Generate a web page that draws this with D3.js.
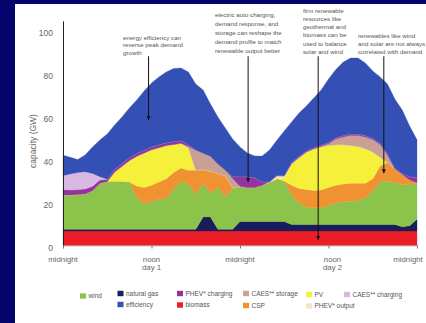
<!DOCTYPE html>
<html>
<head>
<meta charset="utf-8">
<script src="https://cdn.jsdelivr.net/npm/d3@7"></script>
<style>
  html, body { margin: 0; padding: 0; background: #02036b; }
  svg { display: block; }
  text { font-family: "Liberation Sans", Arial, sans-serif; }
</style>
</head>
<body>
<svg id="chart" width="426" height="323"></svg>
<script>
// Two days of supply, hour by hour (GW)
const hours = [0,1,2,3,4,5,6,7,8,9,10,11,12,13,14,15,16,17,18,19,20,21,22,23,24,
  25,26,27,28,29,30,31,32,33,34,35,36,37,38,39,40,41,42,43,44,45,46,47,48];

const biomass = [6.7,6.7,6.7,6.7,6.7,6.7,6.7,6.7,6.7,6.7,6.7,6.7,6.7,6.7,6.7,6.7,6.7,
  6.7,6.7,6.7,6.7,6.7,6.7,6.7,6.7,6.7,6.7,6.7,6.7,6.7,6.7,6.7,6.7,6.7,6.7,6.7,6.7,
  6.7,6.7,6.7,6.7,6.7,6.7,6.7,6.7,6.7,6.7,6.7,6.7];
const naturalGas = [0.8,0.8,0.8,0.8,0.8,0.8,0.8,0.8,0.8,0.8,0.8,0.8,0.8,0.8,0.8,0.8,0.8,
  0.8,0.8,6.6,6.6,0.8,0.8,0.8,4.5,4.5,4.5,4.5,4.5,4.5,4.5,3.1,3.1,3.1,3.1,3.1,3.1,
  3.1,3.1,3.1,3.1,3.1,3.1,3.1,3.1,3.1,2.0,2.5,5.5];
const wind = [16.0,16.0,16.2,16.5,18.0,21.5,22.3,22.3,22.3,22.0,
  15.1,11.7,13.0,14.0,14.5,18.5,22.5,21.0,16.5,15.7,
  11.1,19.7,15.1,19.0,16.3,15.8,15.8,16.8,18.1,19.8,
  18.8,13.7,10.0,8.1,7.7,7.7,8.8,10.0,10.5,10.7,
  11.1,12.3,15.5,19.7,20.2,19.5,19.7,19.3,16.6];
const csp = [0,0,0,0,0,0,0,0,0,0,
  5.1,7.8,7.5,8.0,9.0,8.0,6.0,6.5,11.0,6.3,10.1,6.3,9.9,0.5,
  0,0,0,0,0,0,0,
  4.5,6.7,8.1,8.1,8.3,8.4,8.2,8.3,8.5,8.1,6.9,5.7,7.5,8.6,6.3,4.6,2.0,0.3];
const pv = [0,0,0,0,0,0,0,
  4.4,7.0,10.0,13.8,16.0,16.5,16.0,15.5,13.0,11.5,10.5,
  0,0,0,0,0,0,0,0,0,0,0,0,
  1.4,10.1,14.4,17.5,19.4,20.2,19.5,18.8,18.2,17.5,17.0,16.0,12.5,4.0,
  0,0,0,0,0];
const phevOutput = [0,0,0,0,0,0,0,0,0,0,0,0,0,0,0,0,0,0,0,0,0,0,0,0,0,0,0,0,
  0.3,1.5,1.0,
  0,0,0,0,0,0,0,0,0,0,0,0,0,0,0,0,0,0];
const caesStorage = [0,0,0,0,0,0,0,0,0,0,0,0,0,0,0,0,0,
  0.5,9.4,7.7,7.0,4.5,2.6,4.2,
  0,0,0,0,0,0,0,0,0,0,0,0,
  0.8,2.7,3.7,4.7,5.2,5.5,5.8,6.0,3.4,
  0,0,0,0];
const phevCharging = [2.5,2.3,2.3,2.3,2.0,1.5,1.0,
  1.3,1.3,1.3,1.3,1.3,1.3,1.3,1.3,1.3,1.3,0.8,
  0,0,0,0,0,0.8,4.5,5.0,4.5,1.5,0,0,0,
  0.6,0.6,0.6,0.6,0.6,0.6,0.6,0.6,0.6,0.6,0.6,0.6,0.6,0.6,
  0.4,0.5,1.5,2.5];
const caesCharging = [6.5,7.5,8.0,8.0,6.0,1.5,0,0,0,0,0,0,0,0,0,0,0,0,0,0,0,0,0,0,
  0,0,0,0,0,0,0,0,0,0,0,0,0,0,0,0,0,0,0,0,0,0,0,0,0];
const efficiency = [9.5,7.7,6.0,7.8,12.3,17.1,21.1,20.5,21.7,23.2,24.9,27.6,29.8,31.6,
  32.9,34.0,33.8,33.9,
  30.7,29.3,24.3,21.8,19.6,17.5,13.8,11.0,10.1,12.1,14.8,16.5,20.9,18.7,20.1,20.8,23.0,
  25.7,29.5,31.8,34.2,35.4,35.4,33.8,31.3,30.8,32.5,32.1,29.5,23.6,17.6];

// Axis ticks
const yTicks = [0, 20, 40, 60, 80, 100];
const xTickHours = [0, 12, 24, 36, 48];
const xTickLabels = [["midnight"], ["noon", "day 1"], ["midnight"], ["noon", "day 2"], ["midnight"]];

// Call-outs: text, hour of the arrow, value the arrow points at
const noteText = [
  ["energy efficiency can", "reverse peak demand", "growth"],
  ["electric auto charging,", "demand response, and", "storage can reshape the",
   "demand profile to match", "renewable output better"],
  ["firm renewable", "resources like", "geothermal and", "biomass can be",
   "used to balance", "solar and wind"],
  ["renewables like wind", "and solar are not always", "correlated with demand"]
];
const noteHour = [11.6, 25.1, 34.6, 43.5];
const noteTip = [58.4, 29.5, 2.6, 33.6];
const noteTop = 88;

// Layers, bottom to top
const layerKeys = ["biomass", "naturalGas", "wind", "csp", "pv", "phevOutput",
  "caesStorage", "phevCharging", "caesCharging", "efficiency"];
const layerSeries = { biomass, naturalGas, wind, csp, pv, phevOutput,
  caesStorage, phevCharging, caesCharging, efficiency };
const layerColors = {
  biomass: "#eb1e28", naturalGas: "#191e5a", wind: "#8cc34b", csp: "#f09132",
  pv: "#f5f03a", phevOutput: "#f1e6c2", caesStorage: "#c8a096",
  phevCharging: "#9433a0", caesCharging: "#d7b9e1", efficiency: "#3450b4"
};
const legendKeys = ["wind", "naturalGas", "efficiency", "phevCharging", "biomass",
  "caesStorage", "csp", "pv", "phevOutput", "caesCharging"];
const legendNames = ["wind", "natural gas", "efficiency", "PHEV* charging", "biomass",
  "CAES** storage", "CSP", "PV", "PHEV* output", "CAES** charging"];

const svg = d3.select("#chart");

// white slide panel
svg.append("rect").attr("x", 15).attr("y", 4).attr("width", 411).attr("height", 319)
  .attr("fill", "#ffffff");

const x = d3.scaleLinear().domain([0, 48]).range([63, 417]);
const y = d3.scaleLinear().domain([0, 104.5]).range([245.5, 20.8]);

const rows = hours.map((h, i) => {
  const r = { hour: h };
  layerKeys.forEach(k => { r[k] = layerSeries[k][i]; });
  return r;
});
const stacked = d3.stack().keys(layerKeys)(rows);

const area = d3.area()
  .x(d => x(d.data.hour))
  .y0(d => y(d[0]))
  .y1(d => y(d[1]))
  .curve(d3.curveLinear);

svg.append("g").selectAll("path")
  .data(stacked)
  .join("path")
  .attr("d", area)
  .attr("fill", d => layerColors[d.key])
  .attr("stroke", d => layerColors[d.key])
  .attr("stroke-width", 0.3);

// y axis
const yAxis = svg.append("g").attr("transform", `translate(${x(0)},0)`)
  .call(d3.axisLeft(y).tickValues(yTicks).tickSize(0).tickPadding(10));
yAxis.select(".domain").attr("stroke", "#222").attr("stroke-width", 1);
yAxis.selectAll("text").attr("font-size", 8.5).attr("fill", "#666")
  .attr("font-family", "Liberation Sans, Arial, sans-serif")
  .attr("dy", "0.62em");

svg.append("text")
  .attr("transform", `translate(36,${(y(0) + y(100)) / 2 + 3}) rotate(-90)`)
  .attr("text-anchor", "middle")
  .attr("font-size", 8.5).attr("fill", "#666")
  .text("capacity (GW)");

// x axis
const xAxis = svg.append("g").attr("transform", `translate(0,${y(0)})`)
  .call(d3.axisBottom(x).tickValues(xTickHours).tickSize(3).tickFormat(""));
xAxis.select(".domain").attr("stroke", "#999").attr("stroke-width", 0.6);
xAxis.selectAll(".tick line").attr("stroke", "#777");

// time-of-day labels, one text per line
const xLab = svg.append("g");
xTickHours.forEach((h, i) => {
  const lx = x(h) + (i === 4 ? -9 : i === 3 ? 4 : 0);
  xTickLabels[i].forEach((line, j) => {
    xLab.append("text")
      .attr("x", lx)
      .attr("y", 261.5 + j * 8.6)
      .attr("text-anchor", "middle")
      .attr("font-size", 7.8).attr("fill", "#666")
      .text(line);
  });
});

// call-outs
const defs = svg.append("defs");
defs.append("marker").attr("id", "tip")
  .attr("viewBox", "0 0 10 10").attr("refX", 10).attr("refY", 5)
  .attr("markerWidth", 4).attr("markerHeight", 4).attr("orient", "auto")
  .append("path").attr("d", "M0,0L10,5L0,10Z").attr("fill", "#111");

const noteBoxes = [[123, 39.5, 7.7], [215, 17, 9], [303, 12.5, 8.3], [358, 37.5, 8.3]];
noteText.forEach((lines, i) => {
  const [tx, ty, lh] = noteBoxes[i];
  const t = svg.append("text").attr("font-size", 6.2).attr("fill", "#555");
  lines.forEach((line, j) => {
    t.append("tspan").attr("x", tx).attr("y", ty + j * lh).text(line);
  });
  svg.append("line")
    .attr("x1", x(noteHour[i])).attr("x2", x(noteHour[i]))
    .attr("y1", y(noteTop)).attr("y2", y(noteTip[i]))
    .attr("stroke", "#111").attr("stroke-width", 1)
    .attr("marker-end", "url(#tip)");
});

// legend
const legendPos = [[80, 296], [117.5, 293.5], [117.5, 304.5], [177, 293.5], [177, 305],
  [243, 293.5], [243, 305.5], [306, 294.5], [306, 306], [344, 294.5]];
const lg = svg.append("g");
legendKeys.forEach((k, i) => {
  const [lx, ly] = legendPos[i];
  lg.append("rect").attr("x", lx).attr("y", ly - 2.7).attr("width", 6).attr("height", 5.4)
    .attr("fill", layerColors[k]);
  lg.append("text").attr("x", lx + 8.5).attr("y", ly + 2.2)
    .attr("font-size", 6.5).attr("fill", "#555").text(legendNames[i]);
});
</script>
</body>
</html>
